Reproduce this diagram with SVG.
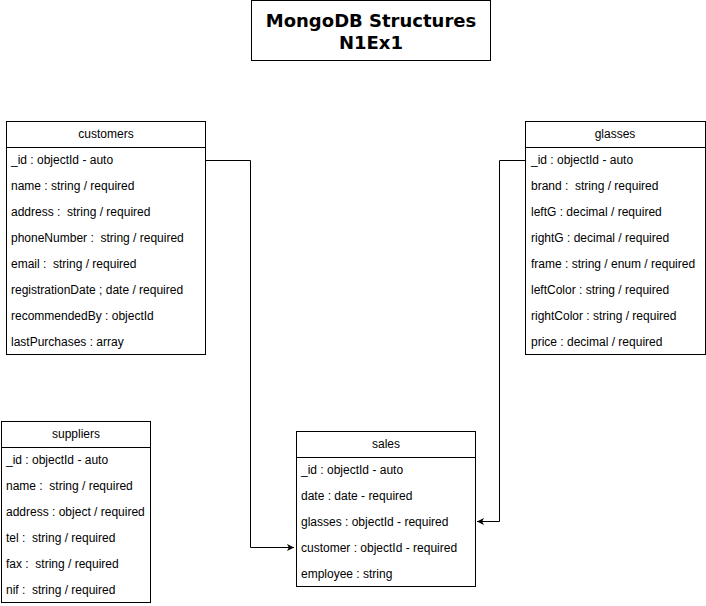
<svg xmlns="http://www.w3.org/2000/svg" width="706" height="606" viewBox="0 0 706 606">
<style>
.box{fill:#fff;stroke:#000;stroke-width:1}
.t{font-family:"Liberation Sans",Arial,sans-serif;font-size:12px;fill:#000}
.h{text-anchor:middle}
.title{font-family:"DejaVu Sans",Verdana,sans-serif;font-weight:bold;font-size:18px;text-anchor:middle;fill:#000}
.c{fill:none;stroke:#000;stroke-width:1}
</style>
<defs>
<marker id="arr" markerWidth="8" markerHeight="8" refX="7" refY="4" orient="auto" markerUnits="userSpaceOnUse">
<path d="M0,0.5 L7,4 L0,7.5 L1.8,4 Z" fill="#000"/>
</marker>
</defs>
<rect width="706" height="606" fill="#fff"/>
<g id="title">
<rect class="box" x="251.5" y="0.5" width="239" height="60"/>
<text class="title" x="371" y="27">MongoDB Structures</text>
<text class="title" x="371" y="49">N1Ex1</text>
</g>
<g id="connectors">
<path class="c" d="M205.5,160.5 H250.5 V547.5 H294" marker-end="url(#arr)"/>
<path class="c" d="M525.5,160.5 H499.5 V521.5 H477" marker-end="url(#arr)"/>
</g>
<g id="customers">
<rect class="box" x="6.5" y="121.5" width="199" height="233"/>
<line class="c" x1="6.5" y1="147.5" x2="205.5" y2="147.5"/>
<text class="t h" x="106" y="138">customers</text>
<text class="t" x="11" y="164">_id : objectId - auto</text>
<text class="t" x="11" y="190">name : string / required</text>
<text class="t" x="11" y="216" xml:space="preserve">address :  string / required</text>
<text class="t" x="11" y="242" xml:space="preserve">phoneNumber :  string / required</text>
<text class="t" x="11" y="268" xml:space="preserve">email :  string / required</text>
<text class="t" x="11" y="294">registrationDate ; date / required</text>
<text class="t" x="11" y="320">recommendedBy : objectId</text>
<text class="t" x="11" y="346">lastPurchases : array</text>
</g>
<g id="glasses">
<rect class="box" x="525.5" y="121.5" width="180" height="233"/>
<line class="c" x1="525.5" y1="147.5" x2="705.5" y2="147.5"/>
<text class="t h" x="615" y="138">glasses</text>
<text class="t" x="531" y="164">_id : objectId - auto</text>
<text class="t" x="531" y="190" xml:space="preserve">brand :  string / required</text>
<text class="t" x="531" y="216">leftG : decimal / required</text>
<text class="t" x="531" y="242">rightG : decimal / required</text>
<text class="t" x="531" y="268">frame : string / enum / required</text>
<text class="t" x="531" y="294">leftColor : string / required</text>
<text class="t" x="531" y="320">rightColor : string / required</text>
<text class="t" x="531" y="346">price : decimal / required</text>
</g>
<g id="suppliers">
<rect class="box" x="1.5" y="421.5" width="149" height="181"/>
<line class="c" x1="1.5" y1="447.5" x2="150.5" y2="447.5"/>
<text class="t h" x="76" y="438">suppliers</text>
<text class="t" x="6" y="464">_id : objectId - auto</text>
<text class="t" x="6" y="490" xml:space="preserve">name :  string / required</text>
<text class="t" x="6" y="516">address : object / required</text>
<text class="t" x="6" y="542" xml:space="preserve">tel :  string / required</text>
<text class="t" x="6" y="568" xml:space="preserve">fax :  string / required</text>
<text class="t" x="6" y="594" xml:space="preserve">nif :  string / required</text>
</g>
<g id="sales">
<rect class="box" x="296.5" y="431.5" width="179" height="155"/>
<line class="c" x1="296.5" y1="457.5" x2="475.5" y2="457.5"/>
<text class="t h" x="386" y="448">sales</text>
<text class="t" x="301" y="474">_id : objectId - auto</text>
<text class="t" x="301" y="500">date : date - required</text>
<text class="t" x="301" y="526">glasses : objectId - required</text>
<text class="t" x="301" y="552">customer : objectId - required</text>
<text class="t" x="301" y="578">employee : string</text>
</g>
</svg>
